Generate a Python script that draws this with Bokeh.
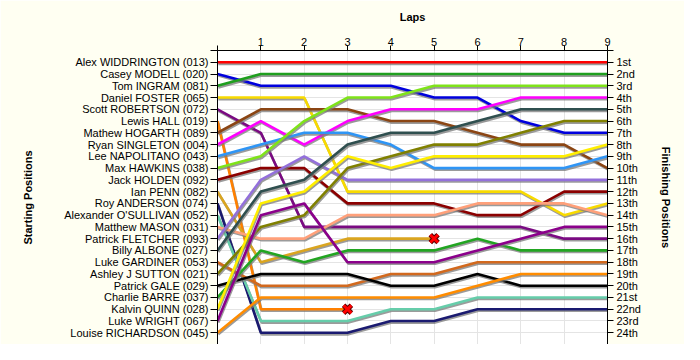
from bokeh.plotting import figure
from bokeh.models import LinearAxis, FixedTicker, Range1d, ColumnDataSource
from bokeh.transform import dodge
from bokeh.embed import file_html
from bokeh.resources import INLINE

# ---- data ----
riders = ["Alex WIDDRINGTON (013)", "Casey MODELL (020)", "Tom INGRAM (081)",
          "Daniel FOSTER (065)", "Scott ROBERTSON (072)", "Lewis HALL (019)",
          "Mathew HOGARTH (089)", "Ryan SINGLETON (004)", "Lee NAPOLITANO (043)",
          "Max HAWKINS (038)", "Jack HOLDEN (092)", "Ian PENN (082)",
          "Roy ANDERSON (074)", "Alexander O'SULLIVAN (052)", "Matthew MASON (031)",
          "Patrick FLETCHER (093)", "Billy ALBONE (027)", "Luke GARDINER (053)",
          "Ashley J SUTTON (021)", "Patrick GALE (029)", "Charlie BARRE (037)",
          "Kalvin QUINN (028)", "Luke WRIGHT (067)", "Louise RICHARDSON (045)"]

colors = ["#ff0000", "#0000dd", "#1f9f1f", "#f8da00", "#7a0a82", "#ff8000",
          "#8b4513", "#ff00ff", "#2f95f5", "#7fe31a", "#8b0000", "#daa520",
          "#1a1a70", "#66cdaa", "#ffa07a", "#9370db", "#2f4f4f", "#d2691e",
          "#808000", "#000000", "#22a522", "#ffee00", "#8b008b", "#ff8c00"]

laps = [0, 1, 2, 3, 4, 5, 6, 7, 8, 9]
lap_labels = ["1", "2", "3", "4", "5", "6", "7", "8", "9"]

# position of each rider (in starting order) after each lap; None = retired
lap0 = list(range(1, 25))
lap1 = [1, 3, 2, 4, 7, 22, 5, 6, 8, 9, 10, 18, 24, 23, 16, 11, 12, 20, 15, 19, 17, 13, 14, 21]
lap2 = [1, 3, 2, 4, 15, 22, 5, 8, 7, 6, 10, 17, 24, 23, 16, 9, 11, 20, 14, 19, 18, 12, 13, 21]
lap3 = [1, 3, 2, 12, 15, 22, 5, 6, 7, 4, 13, 16, 24, 23, 14, 11, 8, 20, 10, 19, 17, 9, 18, 21]
lap4 = [1, 3, 2, 12, 15, None, 6, 5, 8, 4, 13, 16, 23, 22, 14, 11, 7, 19, 9, 20, 17, 10, 18, 21]
lap5 = [1, 4, 2, 12, 15, None, 6, 5, 10, 3, 13, 16, 23, 22, 14, 11, 7, 19, 8, 20, 17, 9, 18, 21]
lap6 = [1, 4, 2, 12, 15, None, 7, 5, 10, 3, 14, None, 22, 21, 13, 11, 6, 18, 8, 19, 16, 9, 17, 20]
lap7 = [1, 6, 2, 12, 15, None, 8, 4, 10, 3, 14, None, 22, 21, 13, 11, 5, 18, 7, 20, 17, 9, 16, 19]
lap8 = [1, 7, 2, 14, 16, None, 8, 4, 10, 3, 12, None, 22, 21, 13, 11, 5, 18, 6, 20, 17, 9, 15, 19]
lap9 = [1, 7, 2, 13, 16, None, 10, 4, 9, 3, 12, None, 22, 21, 14, 11, 5, 18, 6, 20, 17, 8, 15, 19]

finish_labels = ["1st", "2nd", "3rd", "4th", "5th", "6th", "7th", "8th", "9th", "10th",
                 "11th", "12th", "13th", "14th", "15th", "16th", "17th", "18th", "19th",
                 "20th", "21st", "22nd", "23rd", "24th"]

all_laps = [lap0, lap1, lap2, lap3, lap4, lap5, lap6, lap7, lap8, lap9]
FONT = "Liberation Sans"

p = figure(width=684, height=344, x_range=Range1d(0, 9), y_range=Range1d(25, 0),
           x_axis_location="above", output_backend="svg", toolbar_location=None)
p.min_border_left = 217
p.min_border_right = 77
p.min_border_top = 50
p.min_border_bottom = 0
p.border_fill_color = "#fffff2"
p.background_fill_color = "#ffffff"
p.outline_line_color = None

# grids
p.xgrid.ticker = FixedTicker(ticks=laps)
p.ygrid.ticker = FixedTicker(ticks=list(range(1, 25)))
p.xgrid.grid_line_color = "#e4e4e4"
p.ygrid.grid_line_color = "#e4e4e4"

def style_axis(ax):
    ax.minor_tick_line_color = None
    ax.major_label_text_font = FONT
    ax.major_label_text_font_size = "11px"
    ax.major_label_text_color = "#000000"
    ax.axis_label_text_font = FONT
    ax.axis_label_text_font_size = "11px"
    ax.axis_label_text_font_style = "bold"
    ax.axis_label_text_color = "#000000"
    ax.axis_line_color = "#000000"
    ax.major_tick_line_color = "#000000"
    ax.major_tick_in = 0

# top axis
xa = p.xaxis[0]
xa.ticker = FixedTicker(ticks=laps)
ov = {0: ""}
for i, t in enumerate(lap_labels):
    ov[i + 1] = t
xa.major_label_overrides = ov
xa.axis_label = "Laps"
style_axis(xa)
xa.major_tick_out = 5
xa.major_label_standoff = 0
xa.axis_label_standoff = 12

# left axis
ya = p.yaxis[0]
ya.ticker = FixedTicker(ticks=list(range(0, 26)))
ovl = {0: "", 25: ""}
for i, n in enumerate(riders):
    ovl[i + 1] = n
ya.major_label_overrides = ovl
ya.axis_label = "Starting Positions"
style_axis(ya)
ya.major_tick_out = 7
ya.major_label_standoff = 2
ya.axis_label_standoff = 27

# right axis
ra = LinearAxis(ticker=FixedTicker(ticks=list(range(0, 26))))
ovr = {0: "", 25: ""}
for i, t in enumerate(finish_labels):
    ovr[i + 1] = t
ra.major_label_overrides = ovr
ra.axis_label = "Finishing Positions"
style_axis(ra)
ra.major_tick_out = 6
ra.major_label_standoff = 3
ra.axis_label_standoff = 16
p.add_layout(ra, "right")

# lines
dnf_x, dnf_y = [], []
for r in range(len(riders)):
    xs, ys = [], []
    for li, lp in zip(laps, all_laps):
        if lp[r] is not None:
            xs.append(li)
            ys.append(lp[r])
    src = ColumnDataSource(dict(x=xs, y=ys))
    p.line(x=dodge("x", 0.02, range=p.x_range), y=dodge("y", 0.14, range=p.y_range),
           source=src, line_color="#7a7a7a", line_alpha=0.75, line_width=2.5)
    p.line(x="x", y="y", source=src, line_color=colors[r], line_width=2.6)
    if xs[-1] != laps[-1]:
        dnf_x.append(xs[-1])
        dnf_y.append(ys[-1])

p.scatter(x=dnf_x, y=dnf_y, marker="x", size=11, line_width=5, line_color="#5a0000")
p.scatter(x=dnf_x, y=dnf_y, marker="x", size=11, line_width=3, line_color="#ff0000")

open("out.html", "w").write(file_html(p, INLINE))
